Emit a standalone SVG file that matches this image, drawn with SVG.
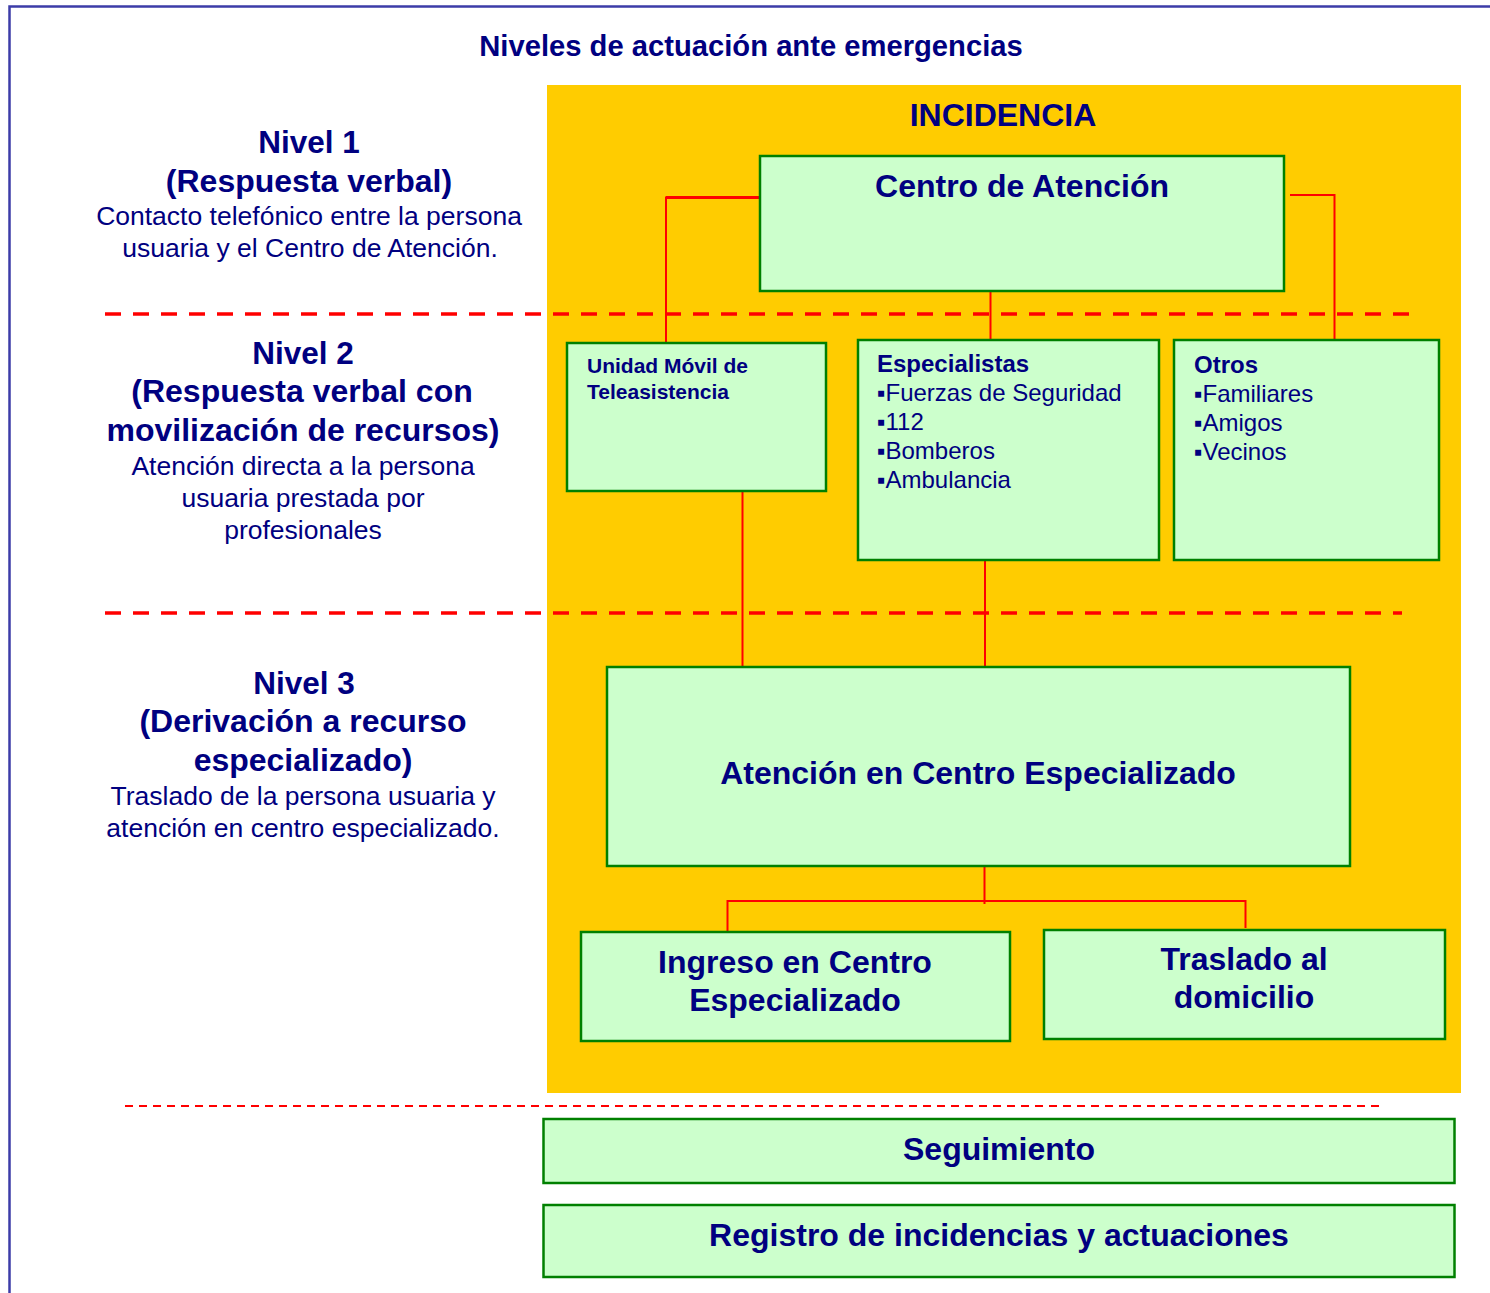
<svg xmlns="http://www.w3.org/2000/svg" width="1490" height="1293" viewBox="0 0 1490 1293">
<style>
.t{font-family:"Liberation Sans",Arial,sans-serif;fill:#000080}
.b{font-weight:bold}
.c{text-anchor:middle}
.box{fill:#CCFFCC;stroke:#008000;stroke-width:2.5}
.con{stroke:#FF0000;stroke-width:2;fill:none}
.dash{stroke:#FF0000;stroke-width:3.5;stroke-dasharray:16 12;fill:none}
</style>
<rect width="1490" height="1293" fill="#FFFFFF"/>
<path d="M9.5,1293 V6.5 H1490" fill="none" stroke="#3C3CA8" stroke-width="2.5"/>
<text class="t b c" x="751" y="56" font-size="29.2">Niveles de actuación ante emergencias</text>
<rect x="547" y="85" width="914" height="1008" fill="#FFCC00"/>
<text class="t b c" x="1003" y="126" font-size="32">INCIDENCIA</text>

<g id="niveles">
<text class="t b c" x="309" y="153" font-size="31.5">Nivel 1</text>
<text class="t b c" x="309" y="192" font-size="32">(Respuesta verbal)</text>
<text class="t c" x="309" y="225" font-size="26.5">Contacto telefónico entre la persona</text>
<text class="t c" x="310" y="257" font-size="26.5">usuaria y el Centro de Atención.</text>
<text class="t b c" x="303" y="364" font-size="31.5">Nivel 2</text>
<text class="t b c" x="302" y="402" font-size="32">(Respuesta verbal con</text>
<text class="t b c" x="303" y="441" font-size="32">movilización de recursos)</text>
<text class="t c" x="303" y="475" font-size="26.5">Atención directa a la persona</text>
<text class="t c" x="303" y="507" font-size="26.5">usuaria prestada por</text>
<text class="t c" x="303" y="539" font-size="26.5">profesionales</text>
<text class="t b c" x="304" y="694" font-size="31.5">Nivel 3</text>
<text class="t b c" x="303" y="732" font-size="32">(Derivación a recurso</text>
<text class="t b c" x="303" y="771" font-size="32">especializado)</text>
<text class="t c" x="303" y="805" font-size="26.5">Traslado de la persona usuaria y</text>
<text class="t c" x="303" y="837" font-size="26.5">atención en centro especializado.</text>
</g>

<g id="separadores">
<line class="dash" x1="105" y1="314" x2="1412" y2="314"/>
<line class="dash" x1="105" y1="613" x2="1402" y2="613"/>
<line x1="125" y1="1106" x2="1380" y2="1106" stroke="#FF0000" stroke-width="2" stroke-dasharray="8 6"/>
</g>

<g id="connectors">
<path class="con" d="M760,197.5 H666 V343" />
<line x1="666" y1="197.5" x2="760" y2="197.5" stroke="#FF0000" stroke-width="3"/>
<path class="con" d="M1290,195 H1334.5 V340"/>
<line class="con" x1="990.5" y1="291" x2="990.5" y2="340"/>
<line class="con" x1="742.5" y1="491" x2="742.5" y2="667"/>
<line class="con" x1="985" y1="560" x2="985" y2="667"/>
<line class="con" x1="984.5" y1="866" x2="984.5" y2="904"/>
<path class="con" d="M727.5,931 V901 H1245.5 V928"/>
</g>

<g id="centro-atencion">
<rect class="box" x="760" y="156" width="524" height="135"/>
<text class="t b c" x="1022" y="197" font-size="32">Centro de Atención</text>
</g>

<g id="unidad-movil">
<rect class="box" x="567" y="343" width="259" height="148"/>
<text class="t b" x="587" y="373" font-size="21">Unidad Móvil de</text>
<text class="t b" x="587" y="399" font-size="21">Teleasistencia</text>
</g>

<g id="especialistas">
<rect class="box" x="858" y="340" width="301" height="220"/>
<text class="t b" x="877" y="372" font-size="24">Especialistas</text>
<text class="t" x="877" y="401" font-size="24">▪Fuerzas de Seguridad</text>
<text class="t" x="877" y="430" font-size="24">▪112</text>
<text class="t" x="877" y="459" font-size="24">▪Bomberos</text>
<text class="t" x="877" y="488" font-size="24">▪Ambulancia</text>
</g>

<g id="otros">
<rect class="box" x="1174" y="340" width="265" height="220"/>
<text class="t b" x="1194" y="373" font-size="24">Otros</text>
<text class="t" x="1194" y="402" font-size="24">▪Familiares</text>
<text class="t" x="1194" y="431" font-size="24">▪Amigos</text>
<text class="t" x="1194" y="460" font-size="24">▪Vecinos</text>
</g>

<g id="atencion-centro">
<rect class="box" x="607" y="667" width="743" height="199"/>
<text class="t b c" x="978" y="784" font-size="32">Atención en Centro Especializado</text>
</g>

<g id="ingreso">
<rect class="box" x="581" y="932" width="429" height="109"/>
<text class="t b c" x="795" y="973" font-size="32">Ingreso en Centro</text>
<text class="t b c" x="795" y="1011" font-size="32">Especializado</text>
</g>

<g id="traslado">
<rect class="box" x="1044" y="930" width="401" height="109"/>
<text class="t b c" x="1244" y="970" font-size="32">Traslado al</text>
<text class="t b c" x="1244" y="1008" font-size="32">domicilio</text>
</g>

<g id="seguimiento">
<rect class="box" x="543.5" y="1119" width="911" height="64"/>
<text class="t b c" x="999" y="1160" font-size="32">Seguimiento</text>
</g>

<g id="registro">
<rect class="box" x="543.5" y="1205" width="911" height="72"/>
<text class="t b c" x="999" y="1246" font-size="32">Registro de incidencias y actuaciones</text>
</g>
</svg>
